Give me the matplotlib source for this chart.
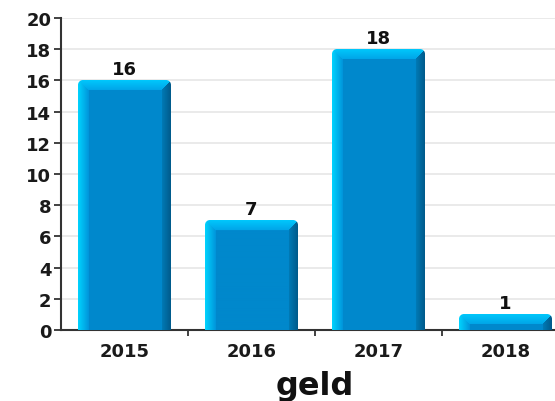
import matplotlib
matplotlib.use("Agg")
import matplotlib.pyplot as plt
import numpy as np

years = ["2015", "2016", "2017", "2018"]
amounts = [16, 7, 18, 1]
y_ticks = [0, 2, 4, 6, 8, 10, 12, 14, 16, 18, 20]
axis_title = "geld"

BASE = np.array([0, 136, 204]) / 255.0


def _ramp(c0, c1, t):
    t = np.clip(t, 0, 1)[..., None]
    return np.array(c0) / 255.0 * (1 - t) + np.array(c1) / 255.0 * t


def bevel_image(w_px, h_px, bl=11, bt=10, br=9, radius=5):
    """RGBA image of a bevelled 'glossy' bar, w_px x h_px pixels."""
    xs = np.arange(w_px) + 0.5
    ys = np.arange(h_px) + 0.5
    X, Y = np.meshgrid(xs, ys)
    dl, dr, dt = X, w_px - X, Y
    img = np.ones((h_px, w_px, 4))
    img[..., :3] = BASE
    m = np.minimum(np.minimum(dl, dr), dt)

    left = (dl == m) & (dl < bl)
    top = (dt == m) & (dt < bt) & ~left
    right = (dr == m) & (dr < br) & ~left & ~top
    img[..., :3][left] = _ramp((0, 212, 255), (0, 148, 218), dl / bl)[left]
    img[..., :3][top] = _ramp((0, 200, 252), (0, 165, 232), dt / bt)[top]
    img[..., :3][right] = _ramp((0, 90, 138), (0, 122, 182), dr / br)[right]

    # round the two top corners
    for cx, side in ((radius, -1), (w_px - radius, 1)):
        in_corner = (Y < radius) & ((X - cx) * side > 0)
        dist = np.sqrt((X - cx) ** 2 + (Y - radius) ** 2)
        img[..., 3][in_corner] = np.clip(radius + 0.5 - dist, 0, 1)[in_corner]
    return img


fig = plt.figure(figsize=(5.55, 4.02), dpi=100)
ax = fig.add_axes([61 / 555, 71 / 402, 508 / 555, 312 / 402])

x = np.arange(len(years))
bars = ax.bar(x, amounts, width=0.73, alpha=0.0, zorder=3)

ax.set_xlim(-0.5, len(years) - 0.5)
ax.set_ylim(0, 20)
ax.set_yticks(y_ticks)
ax.set_xticks(x)
ax.set_xticklabels(years)
ax.set_xticks(x[:-1] + 0.5, minor=True)

ax.grid(axis="y", color="#e6e6e6", linewidth=1.2, zorder=0)
ax.set_axisbelow(True)
for side in ("top", "right"):
    ax.spines[side].set_visible(False)
for side in ("left", "bottom"):
    ax.spines[side].set_color("#333333")
    ax.spines[side].set_linewidth(1.5)

ax.tick_params(axis="y", length=5, width=1.3, color="#333333", pad=2,
               labelsize=13, labelcolor="#1a1a1a")
ax.tick_params(axis="x", which="major", length=0, pad=9,
               labelsize=13, labelcolor="#1a1a1a")
ax.tick_params(axis="x", which="minor", length=4, width=1.3, color="#333333")
for lbl in ax.get_xticklabels() + ax.get_yticklabels():
    lbl.set_fontweight("bold")

ax.set_xlabel(axis_title, fontsize=23, fontweight="bold", color="#111111",
              labelpad=7)

# pixel scale of the data coords, used to size the bevel images
px_x = ax.transData.transform((1, 0))[0] - ax.transData.transform((0, 0))[0]
px_y = ax.transData.transform((0, 1))[1] - ax.transData.transform((0, 0))[1]

for bar, val in zip(bars, amounts):
    x0 = bar.get_x()
    w = bar.get_width()
    h = bar.get_height()
    img = bevel_image(int(round(w * px_x)), max(int(round(h * px_y)), 2))
    ax.imshow(img, extent=(x0, x0 + w, 0, h), origin="upper",
              aspect="auto", interpolation="bilinear", zorder=3)
    ax.text(x0 + w / 2, h + 0.15, f"{val}", ha="center", va="bottom",
            fontsize=13, fontweight="bold", color="#111111", zorder=4)

ax.set_xlim(-0.5, len(years) - 0.5)
ax.set_ylim(0, 20)

fig.savefig("out.png", dpi=100)
